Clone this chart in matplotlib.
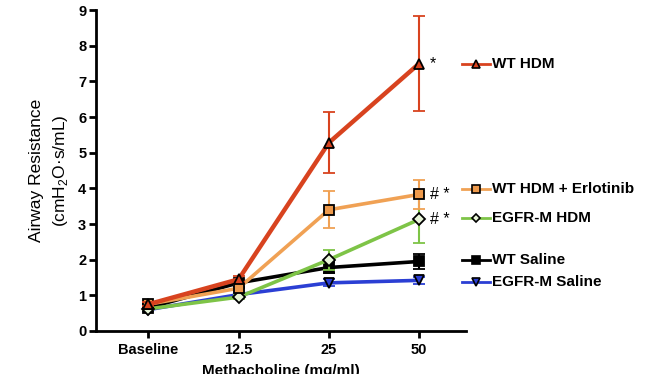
import matplotlib.pyplot as plt
import numpy as np

plt.rcParams['font.family'] = ['Liberation Sans', 'DejaVu Sans']
plt.rcParams['mathtext.fontset'] = 'custom'
plt.rcParams['mathtext.rm'] = 'Liberation Sans'

# categories on the x axis
doses = ['Baseline', '12.5', '25', '50']

# series values (mean) and error (SEM)
wt_hdm = [0.75, 1.45, 5.28, 7.50]
wt_hdm_err = [0.05, 0.08, 0.85, 1.33]
wt_erlo = [0.75, 1.20, 3.40, 3.83]
wt_erlo_err = [0.05, 0.08, 0.52, 0.41]
egfr_hdm = [0.62, 0.95, 2.00, 3.13]
egfr_hdm_err = [0.04, 0.05, 0.28, 0.65]
wt_saline = [0.65, 1.35, 1.78, 1.95]
wt_saline_err = [0.04, 0.05, 0.15, 0.20]
egfr_saline = [0.60, 1.02, 1.35, 1.42]
egfr_saline_err = [0.04, 0.05, 0.10, 0.10]

names = ['WT HDM', 'WT HDM + Erlotinib', 'EGFR-M HDM', 'WT Saline', 'EGFR-M Saline']
signif = ['*', '# *', '# *', '', '']
# where each label sits (y value next to the end of its curve)
label_y = [7.49, 3.98, 3.17, 1.99, 1.37]

series = [
    (wt_hdm, wt_hdm_err, '#d8431f', '^', '#d8431f', 3.2),
    (wt_erlo, wt_erlo_err, '#f0a154', 's', '#ee9a4c', 2.6),
    (egfr_hdm, egfr_hdm_err, '#7ec447', 'D', '#e8f5d8', 2.6),
    (wt_saline, wt_saline_err, '#000000', 's', '#000000', 2.6),
    (egfr_saline, egfr_saline_err, '#2b3fd4', 'v', '#2b3fd4', 2.6),
]

fig = plt.figure(figsize=(6.65, 3.74), dpi=100)
ax = fig.add_axes([0.1444, 0.115, 0.5564, 0.858])

x = np.arange(len(doses))
for i, (vals, err, col, mk, fc, lw) in enumerate(series):
    ms = 6 if mk == 'D' else 7
    ax.errorbar(x, vals, yerr=err, color=col, lw=lw, elinewidth=1.5, capsize=4,
                capthick=1.5, marker=mk, ms=ms, mfc=fc, mec='black', mew=1.3,
                zorder=5 - i, clip_on=False)
    # significance markers
    if signif[i]:
        ax.text(3.12, vals[-1], signif[i], fontsize=11.5, va='center', ha='left')
    # legend entries next to the curves
    ax.plot([3.48, 3.79], [label_y[i]] * 2, color=col, lw=2, clip_on=False)
    ax.plot([3.635], [label_y[i]], marker=mk, ms=ms - 1.5, mfc=fc, mec='black',
            mew=1.2, clip_on=False)
    ax.text(3.81, label_y[i], names[i], fontsize=11, fontweight='bold',
            va='center', ha='left')

ax.set_xlim(-0.58, 3.52)
ax.set_ylim(0, 9)
ax.set_yticks(range(0, 10))
ax.set_xticks(x)
ax.set_xticklabels(doses)
for lab in ax.get_xticklabels() + ax.get_yticklabels():
    lab.set_fontweight('bold')
    lab.set_fontsize(10.5)
ax.tick_params(width=2, length=5, pad=2)
ax.tick_params(axis='x', pad=4)
for s in ['top', 'right']:
    ax.spines[s].set_visible(False)
for s in ['left', 'bottom']:
    ax.spines[s].set_linewidth(2)

ax.set_ylabel('Airway Resistance\n(cmH$_2$O·s/mL)', fontsize=12.5,
              labelpad=6, linespacing=1.45)
ax.set_xlabel('Methacholine (mg/ml)', fontsize=11, fontweight='bold', labelpad=5)

fig.savefig('out.png', dpi=100)
